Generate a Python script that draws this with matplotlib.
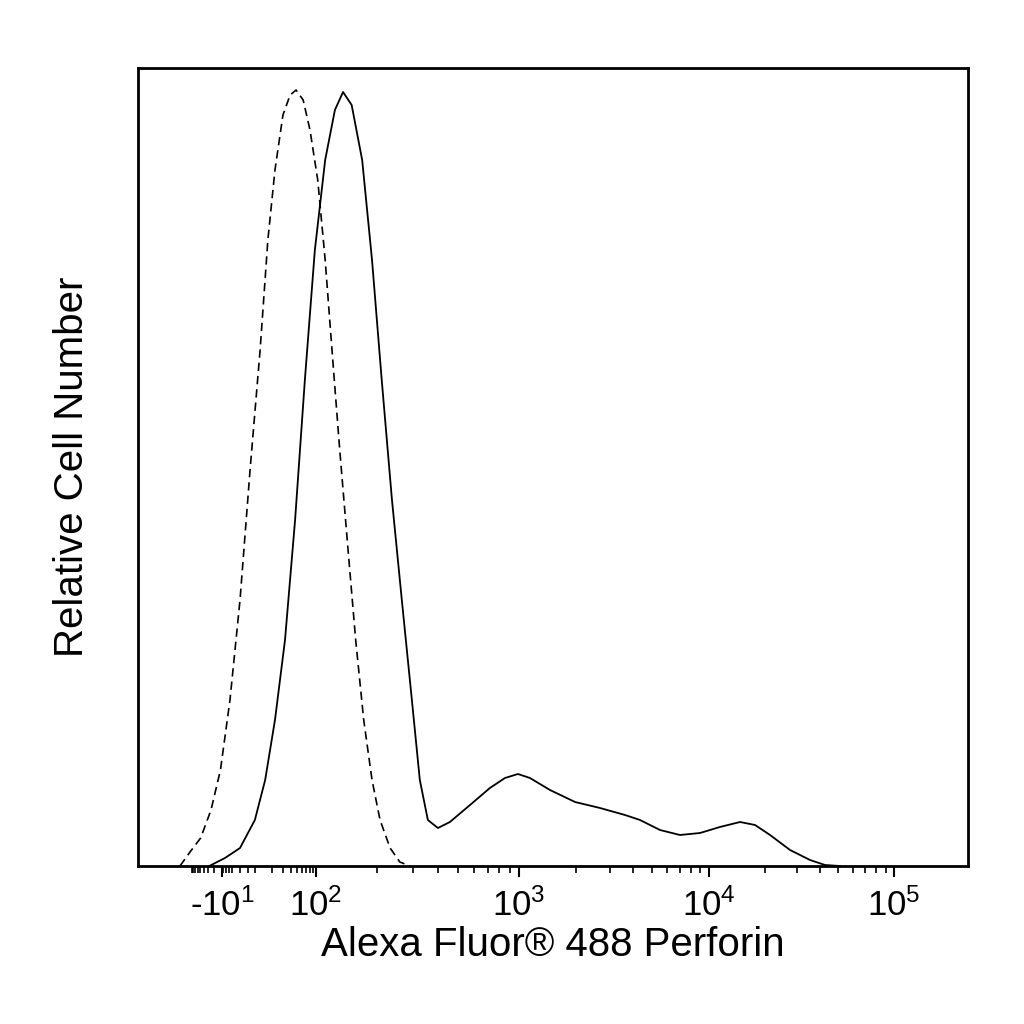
import numpy as np
import matplotlib
matplotlib.use("Agg")
import matplotlib.pyplot as plt
from matplotlib.scale import FuncScale

plt.rcParams['font.family'] = ['Liberation Sans', 'DejaVu Sans']
plt.rcParams['mathtext.fontset'] = 'custom'
plt.rcParams['mathtext.rm'] = 'Liberation Sans'
plt.rcParams['mathtext.it'] = 'Liberation Sans'

# stained (solid) histogram: fluorescence, relative count
solid_x = [-27, -6.6, 2.9, 9.1, 14.8, 22.1, 32.4, 47, 67, 96, 111, 124, 136, 150, 169, 189, 211, 237, 265,
           297, 325, 356, 399, 457, 574, 719, 853, 988, 1142, 1456, 1972, 2669, 3613, 4335, 5522, 7034,
           8970, 11450, 14720, 17740, 21380, 27420, 35160, 42370, 51050]
solid_py = [866, 858, 848, 820, 780, 720, 640, 520, 380, 250, 160, 110, 92, 105, 160, 260, 380, 500, 600,
            700, 780, 820, 828, 822, 805, 788, 778, 774, 778, 790, 802, 808, 815, 820, 830, 835,
            833, 827, 822, 825, 835, 850, 860, 865, 866]
# isotype control (dashed)
ctrl_x = [-156, -100, -49, -24, -11.5, -1.8, 2.9, 6.9, 11.8, 16.6, 22.1, 30, 39.2, 48.8, 63, 80.6, 102,
          111, 121, 131, 144, 157, 172, 189, 207, 232, 259, 291]
ctrl_py = [866, 852, 838, 810, 770, 700, 600, 470, 350, 240, 170, 115, 95, 90, 100, 130, 180,
           260, 360, 450, 550, 640, 720, 780, 820, 848, 862, 866]
solid_y = [(866 - p) / 798 * 100 for p in solid_py]
ctrl_y = [(866 - p) / 798 * 100 for p in ctrl_py]

tick_vals = [-10, 100, 1000, 10000, 100000]
tick_labels = ['-10$^1$', '10$^2$', '10$^3$', '10$^4$', '10$^5$']

# logicle-like display transform
anc_v = np.array([-1000, -100, -10, 0, 100, 1000, 10000, 100000, 262144], float)
anc_p = np.array([138, 190, 222, 232, 316, 519, 709, 894, 968], float)
anc_a = np.arcsinh(anc_v / 10)

def fwd(x):
    return np.interp(np.arcsinh(np.asarray(x, float) / 10), anc_a, anc_p)

def inv(p):
    return 10 * np.sinh(np.interp(np.asarray(p, float), anc_p, anc_a))

fig = plt.figure(figsize=(10.24, 10.24), dpi=100)
ax = fig.add_axes([138/1024, 1 - 866/1024, 830/1024, 798/1024])
ax.set_xscale(FuncScale(ax, (fwd, inv)))
ax.plot(ctrl_x, ctrl_y, color='black', lw=1.2, ls=(0, (5, 3)))
ax.plot(solid_x, solid_y, color='black', lw=1.3)
ax.set_xlim(-1000, 262144)
ax.set_ylim(0, 100)
ax.set_yticks([])
ax.set_xticks(tick_vals)
ax.set_xticklabels(tick_labels, fontsize=25)
minors = [m * 10**e for e in (1, 2, 3, 4) for m in range(2, 10)] + [-m * 10 for m in range(2, 10)] + list(range(-9, 10, 3))
ax.set_xticks(minors, minor=True)
ax.tick_params(axis='x', which='major', direction='out', length=8, width=1.5, pad=8)
ax.tick_params(axis='x', which='minor', direction='out', length=5, width=1.2)
for s in ax.spines.values():
    s.set_linewidth(2)
ax.set_xlabel('Alexa Fluor® 488 Perforin', fontsize=29, labelpad=2)
ax.set_ylabel('Relative Cell Number', fontsize=29, labelpad=34)
fig.savefig('out.png', dpi=100)
